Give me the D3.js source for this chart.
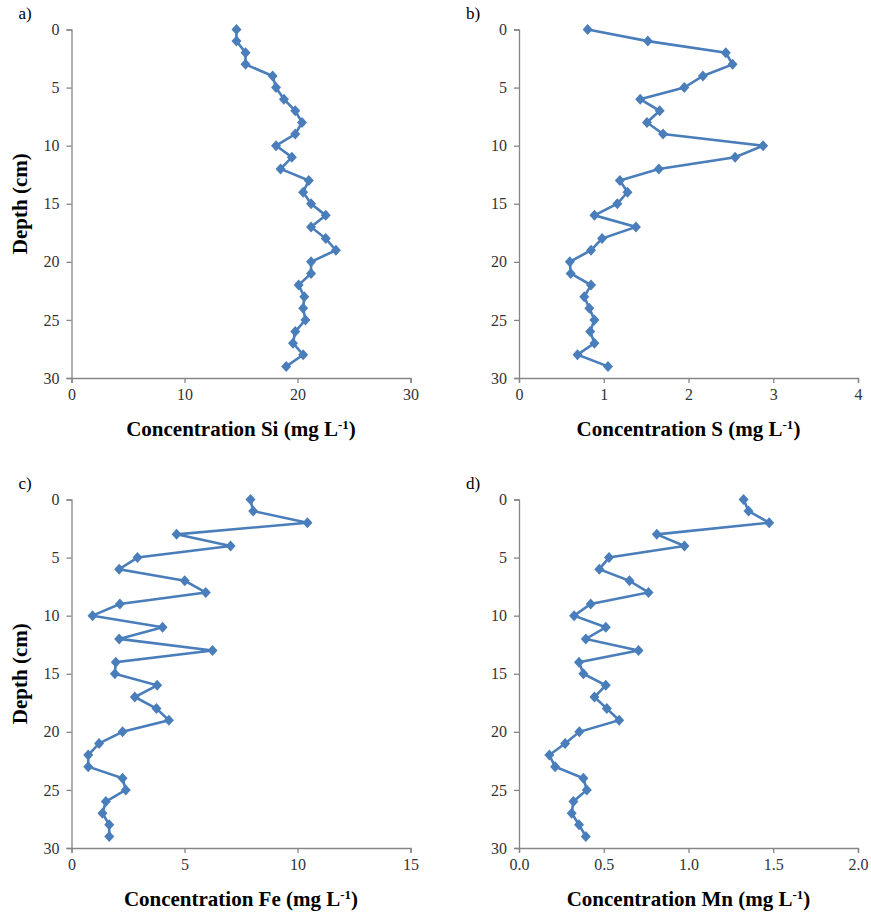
<!DOCTYPE html>
<html>
<head>
<meta charset="utf-8">
<script src="https://cdn.jsdelivr.net/npm/d3@7"></script>
<style>
  body { margin: 0; background: #fff; }
</style>
</head>
<body>
<svg width="871" height="912"></svg>
<script>
// depth of each sample (cm)
const depth = [0,1,2,3,4,5,6,7,8,9,10,11,12,13,14,15,16,17,18,19,20,21,22,23,24,25,26,27,28,29];

const si = [14.6,14.6,15.4,15.4,17.8,18.1,18.8,19.8,20.4,19.8,18.1,19.5,18.5,21.0,20.5,21.2,22.5,21.2,22.5,23.4,
            21.2,21.2,20.1,20.6,20.5,20.7,19.8,19.6,20.5,19.0];
const s  = [0.81,1.52,2.44,2.52,2.17,1.95,1.43,1.66,1.51,1.70,2.88,2.55,1.65,1.19,1.28,1.16,0.89,1.38,0.98,0.85,
            0.60,0.61,0.85,0.77,0.83,0.89,0.84,0.89,0.69,1.05];
const fe = [7.92,8.04,10.44,4.65,7.04,2.92,2.11,5.01,5.94,2.14,0.93,4.03,2.11,6.24,1.96,1.92,3.79,2.80,3.76,4.31,
            2.26,1.22,0.74,0.74,2.26,2.40,1.52,1.37,1.67,1.67];
const mn = [1.325,1.354,1.476,0.813,0.976,0.531,0.474,0.652,0.764,0.423,0.325,0.512,0.394,0.705,0.354,0.380,0.512,0.445,0.518,0.591,
            0.356,0.272,0.179,0.213,0.380,0.400,0.321,0.311,0.354,0.394];

const depthTicks = [0,5,10,15,20,25,30];
const siTicks = [0,10,20,30];
const sTicks = [0,1,2,3,4];
const feTicks = [0,5,10,15];
const mnTicks = [0,0.5,1.0,1.5,2.0];

const panels = [
  {label: "a)", el: "Si", values: si, ticks: siTicks, max: 30, fmt: d3.format("d"), left: 71.5, top: 29.5, yTitle: true},
  {label: "b)", el: "S",  values: s,  ticks: sTicks,  max: 4,  fmt: d3.format("d"), left: 519, top: 29.5, yTitle: false},
  {label: "c)", el: "Fe", values: fe, ticks: feTicks, max: 15, fmt: d3.format("d"), left: 71.5, top: 499.5, yTitle: true},
  {label: "d)", el: "Mn", values: mn, ticks: mnTicks, max: 2,  fmt: d3.format(".1f"), left: 519, top: 499.5, yTitle: false}
];

const pw = 339, ph = 348.5;
const blue = "#4a7ebb", axisGray = "#868686";
const serif = "Liberation Serif";

const svg = d3.select("svg");

panels.forEach(p => {
  const g = svg.append("g").attr("transform", `translate(${p.left},${p.top})`);
  const x = d3.scaleLinear().domain([0, p.max]).range([0, pw]);
  const y = d3.scaleLinear().domain([0, 30]).range([0, ph]);

  const yAxis = g.append("g")
    .call(d3.axisLeft(y).tickValues(depthTicks).tickSize(5).tickPadding(7));
  const xAxis = g.append("g").attr("transform", `translate(0,${ph})`)
    .call(d3.axisBottom(x).tickValues(p.ticks).tickFormat(p.fmt).tickSize(5).tickPadding(6));

  [xAxis, yAxis].forEach(a => {
    a.attr("font-family", serif).attr("font-size", 16);
    a.select(".domain").attr("stroke", axisGray).attr("stroke-width", 1.3);
    a.selectAll(".tick line").attr("stroke", axisGray).attr("stroke-width", 1.3);
    a.selectAll(".tick text").attr("fill", "#333").attr("font-family", serif).attr("font-size", 16);
  });

  const pts = depth.map((d, i) => [p.values[i], d]);
  g.append("path")
    .datum(pts)
    .attr("fill", "none")
    .attr("stroke", blue)
    .attr("stroke-width", 2.6)
    .attr("d", d3.line().x(d => x(d[0])).y(d => y(d[1])));

  g.selectAll(".mk").data(pts).enter().append("path")
    .attr("class", "mk")
    .attr("transform", d => `translate(${x(d[0])},${y(d[1])})`)
    .attr("d", "M0,-5.5L5,0L0,5.5L-5,0Z")
    .attr("fill", blue);

  g.append("text")
    .attr("x", -53).attr("y", -11)
    .attr("font-family", serif).attr("font-size", 17)
    .text(p.label);

  const title = g.append("text")
    .attr("x", pw / 2).attr("y", ph + 58)
    .attr("text-anchor", "middle")
    .attr("font-family", serif).attr("font-size", 21).attr("font-weight", "bold");
  title.append("tspan").text(`Concentration ${p.el} (mg L`);
  title.append("tspan").attr("dy", -7).attr("font-size", 13).text("-1");
  title.append("tspan").attr("dy", 7).text(")");

  if (p.yTitle) {
    g.append("text")
      .attr("transform", `translate(-45,${ph / 2}) rotate(-90)`)
      .attr("text-anchor", "middle")
      .attr("font-family", serif).attr("font-size", 21).attr("font-weight", "bold")
      .text("Depth (cm)");
  }
});
</script>
</body>
</html>
